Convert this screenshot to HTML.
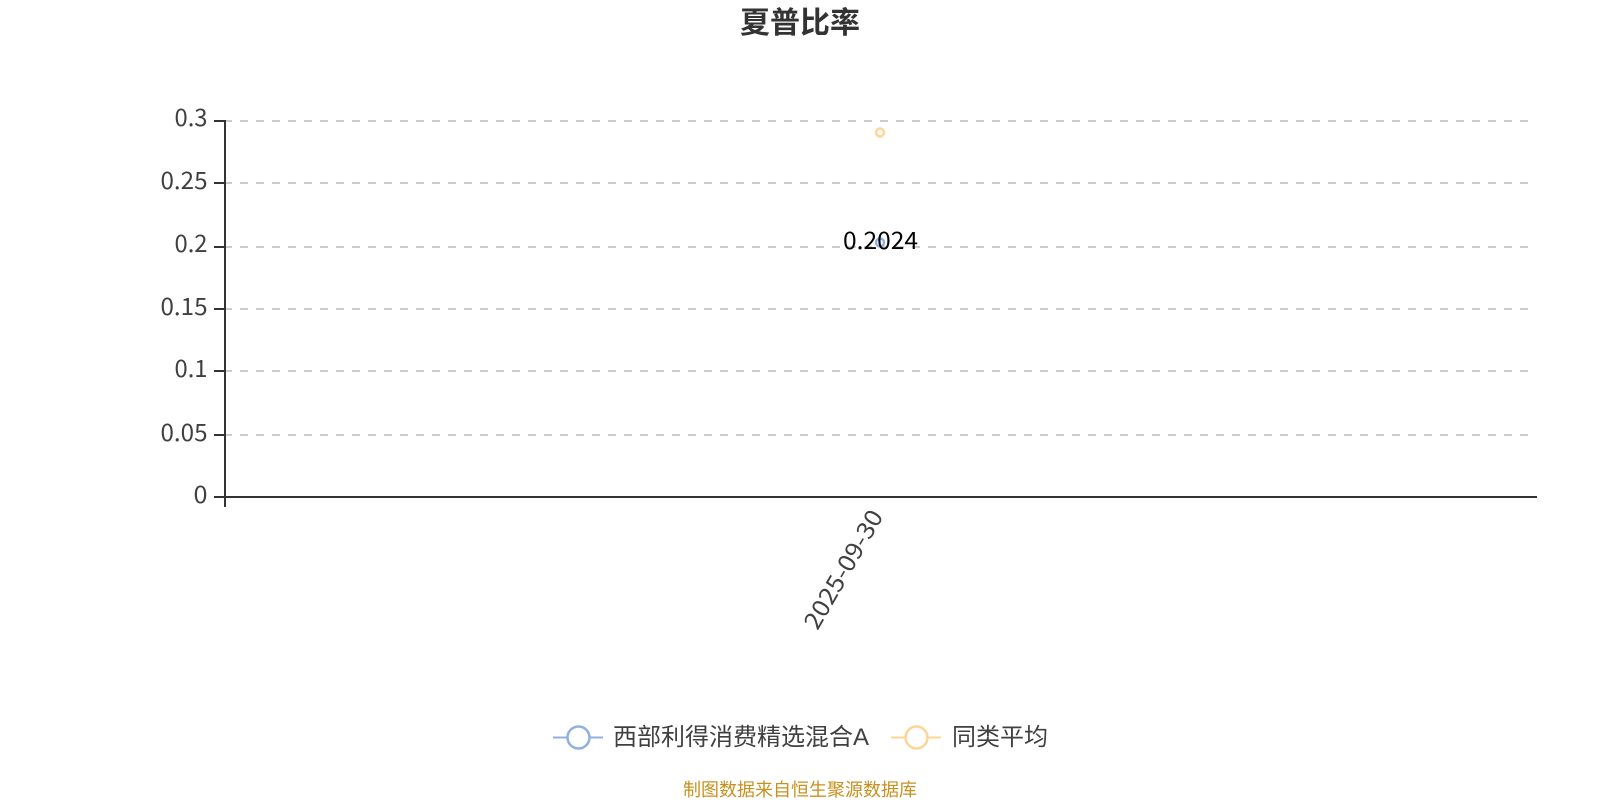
<!DOCTYPE html>
<html><head><meta charset="utf-8"><style>
html,body{margin:0;padding:0;background:#fff;width:1600px;height:800px;overflow:hidden}
svg{display:block}
text{font-family:"Noto Sans CJK SC","Liberation Sans",sans-serif;font-weight:400}
</style></head><body>
<svg width="1600" height="800" viewBox="0 0 1600 800">
<g stroke="#ccc" stroke-width="2" stroke-dasharray="8 8" fill="none">
<path d="M224 121H1530"/><path d="M224 183H1530"/><path d="M224 247H1530"/><path d="M224 309H1530"/><path d="M224 371H1530"/><path d="M224 435H1530"/>
</g>
<g stroke="#333" stroke-width="2" fill="none">
<path d="M225 120V507"/><path d="M214 497H1537"/>
<path d="M214 121H225"/><path d="M214 183H225"/><path d="M214 247H225"/><path d="M214 309H225"/><path d="M214 371H225"/><path d="M214 435H225"/>
</g>
<g font-size="24" fill="#404040" text-anchor="end">
<text x="207.5" y="126" textLength="33" lengthAdjust="spacingAndGlyphs">0.3</text>
<text x="207.5" y="189" textLength="47" lengthAdjust="spacingAndGlyphs">0.25</text>
<text x="207.5" y="252" textLength="33" lengthAdjust="spacingAndGlyphs">0.2</text>
<text x="207.5" y="315" textLength="47" lengthAdjust="spacingAndGlyphs">0.15</text>
<text x="207.5" y="377" textLength="33" lengthAdjust="spacingAndGlyphs">0.1</text>
<text x="207.5" y="441" textLength="47" lengthAdjust="spacingAndGlyphs">0.05</text>
<text x="207.5" y="503" textLength="14" lengthAdjust="spacingAndGlyphs">0</text>
</g>
<circle cx="880" cy="132.5" r="4" fill="#fff" stroke="#ffd596" stroke-width="2.4"/>
<circle cx="880" cy="242.5" r="4" fill="#fff" stroke="#8fb0e0" stroke-width="2.4"/>
<text x="880.5" y="249" font-size="24" fill="#000" text-anchor="middle" textLength="75" lengthAdjust="spacingAndGlyphs">0.2024</text>
<text transform="translate(884,516) rotate(-60)" font-size="24" fill="#404040" text-anchor="end" textLength="133" lengthAdjust="spacingAndGlyphs">2025-09-30</text>
<text x="800" y="33" font-size="30" fill="#333" text-anchor="middle" style="font-weight:700">夏普比率</text>
<path d="M553 737.5H603" stroke="#8fb0e0" stroke-width="2"/>
<circle cx="578.5" cy="737.5" r="11" fill="#fff" stroke="#8fb0e0" stroke-width="2.5"/>
<text x="613" y="745" font-size="24" fill="#404040">西部利得消费精选混合<tspan font-family="Liberation Sans">A</tspan></text>
<path d="M891 737.5H941" stroke="#ffd596" stroke-width="2"/>
<circle cx="916.5" cy="737.5" r="11" fill="#fff" stroke="#ffd596" stroke-width="2.5"/>
<text x="952" y="745" font-size="24" fill="#404040">同类平均</text>
<text x="800" y="796" font-size="18" fill="#c8901e" text-anchor="middle">制图数据来自恒生聚源数据库</text>
</svg>
</body></html>
